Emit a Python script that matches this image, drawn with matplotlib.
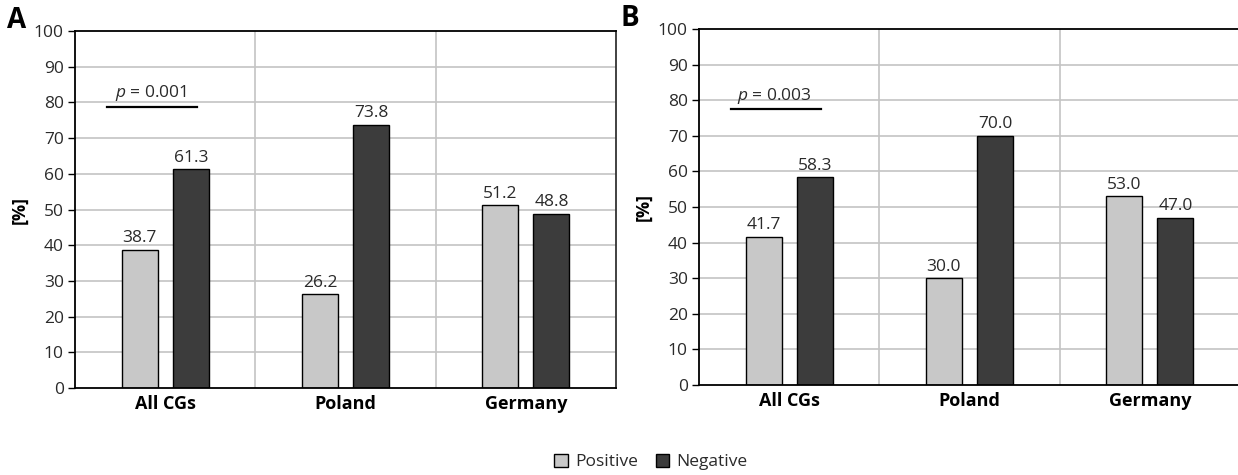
import matplotlib
matplotlib.use("Agg")
import matplotlib.pyplot as plt
from matplotlib.patches import Patch
import numpy as np

categories = ["All CGs", "Poland", "Germany"]
pos_A = [38.7, 26.2, 51.2]
neg_A = [61.3, 73.8, 48.8]
pos_B = [41.7, 30.0, 53.0]
neg_B = [58.3, 70.0, 47.0]
pvals = ["0.001", "0.003"]
yticks = [0, 10, 20, 30, 40, 50, 60, 70, 80, 90, 100]

plt.rcParams['font.family'] = ['Open Sans', 'DejaVu Sans']
plt.rcParams['mathtext.fontset'] = 'custom'
plt.rcParams['mathtext.rm'] = 'Open Sans'
plt.rcParams['mathtext.it'] = 'Open Sans:italic'
TXT = "#2a2a2a"
C_POS = "#c8c8c8"
C_NEG = "#3c3c3c"
FS = 12.5

fig = plt.figure(figsize=(12.38, 4.75), dpi=100)
W, H = 1238, 475

def make_ax(left, top, right, bottom):
    return fig.add_axes([left / W, 1 - bottom / H, (right - left) / W, (bottom - top) / H])

axA = make_ax(75, 31, 616, 388)
axB = make_ax(699, 29, 1240, 385)

def draw(ax, pos, neg, pval, pline_y, ptext_y, right_spine=True):
    x = np.arange(len(categories))
    off = 0.142
    w = 0.2
    ax.set_xlim(-0.5, 2.5)
    ax.set_ylim(0, 100)
    for yy in yticks[1:-1]:
        ax.axhline(yy, color="#c4c4c4", lw=1.2, zorder=0)
    for xx in [0.5, 1.5]:
        ax.axvline(xx, color="#c4c4c4", lw=1.2, zorder=0)
    ax.bar(x - off, pos, w, color=C_POS, edgecolor="black", lw=1.0, zorder=2)
    ax.bar(x + off, neg, w, color=C_NEG, edgecolor="black", lw=1.0, zorder=2)
    for xi, v in zip(x - off, pos):
        ax.text(xi, v + 1.0, f"{v:.1f}", ha="center", va="bottom", fontsize=FS, color=TXT)
    for xi, v in zip(x + off, neg):
        ax.text(xi, v + 1.0, f"{v:.1f}", ha="center", va="bottom", fontsize=FS, color=TXT)
    ax.plot([-0.322, 0.178], [pline_y, pline_y], color="black", lw=1.6, zorder=3)
    ax.text(-0.08, ptext_y, r"$\mathit{p}$ = " + pval, ha="center", va="bottom", fontsize=FS, color=TXT)
    ax.set_yticks(yticks)
    ax.set_yticklabels([str(t) for t in yticks], fontsize=FS, color=TXT)
    ax.set_xticks(x)
    ax.set_xticklabels(categories, fontsize=13, fontweight="bold", color="black")
    ax.tick_params(axis="x", length=0, pad=5)
    ax.tick_params(axis="y", length=5, width=1, direction="out", pad=3)
    for s in ["left", "bottom", "top"]:
        ax.spines[s].set_color("black")
        ax.spines[s].set_linewidth(1.3)
    if right_spine:
        ax.spines["right"].set_color("#333333")
        ax.spines["right"].set_linewidth(1.3)
    else:
        ax.spines["right"].set_visible(False)
    ax.set_ylabel("[%]", fontsize=13, fontweight="bold", color="black", labelpad=4)

draw(axA, pos_A, neg_A, pval=pvals[0], pline_y=78.8, ptext_y=79.8)
draw(axB, pos_B, neg_B, pval=pvals[1], pline_y=77.5, ptext_y=78.5, right_spine=False)

fig.text(7 / W, 1 - 21 / H, "A", fontsize=20, fontweight="bold", va="center", ha="left")
fig.text(621 / W, 1 - 19 / H, "B", fontsize=20, fontweight="bold", va="center", ha="left")

handles = [Patch(facecolor=C_POS, edgecolor="black", label="Positive"),
           Patch(facecolor=C_NEG, edgecolor="black", label="Negative")]
leg = fig.legend(handles=handles, loc="center", bbox_to_anchor=(651 / W, 1 - 462 / H), ncol=2,
                 frameon=False, fontsize=FS, handlelength=0.8, handleheight=0.8,
                 handletextpad=0.4, columnspacing=1.0)
for t in leg.get_texts():
    t.set_color(TXT)

fig.savefig("out.png", dpi=100)
